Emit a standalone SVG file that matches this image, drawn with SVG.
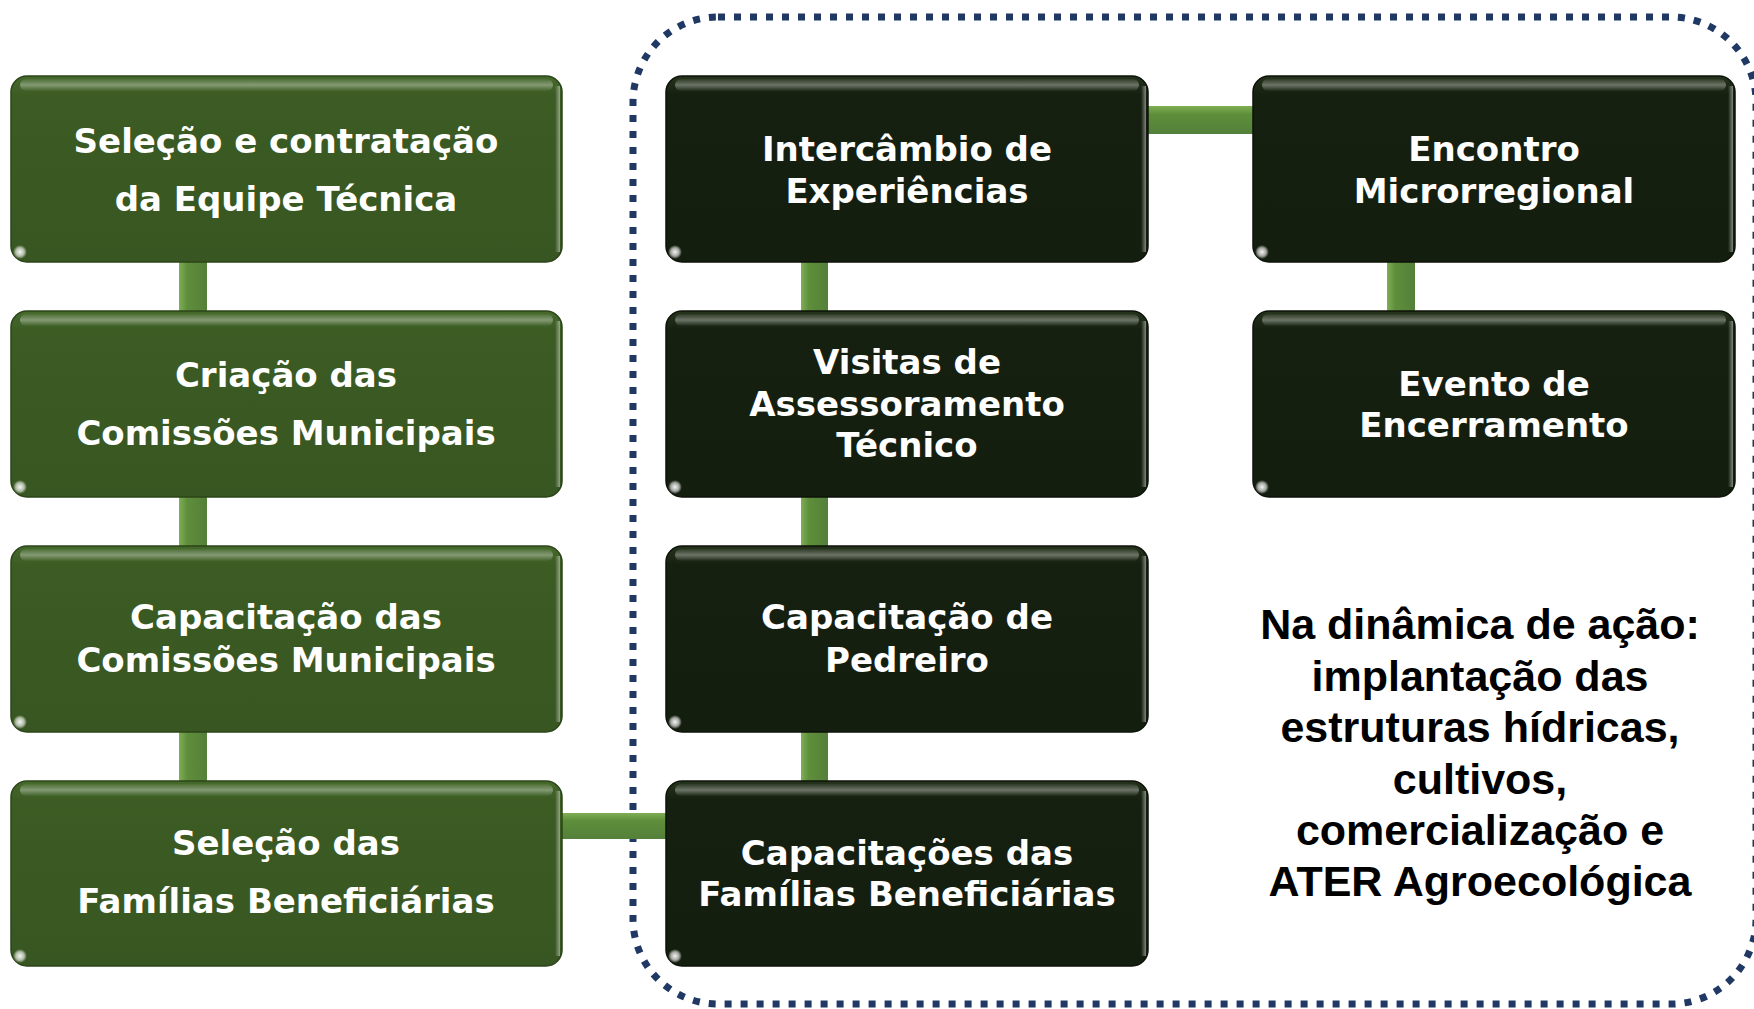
<svg xmlns="http://www.w3.org/2000/svg" width="1754" height="1009" viewBox="0 0 1754 1009">
<defs>
<linearGradient id="gGreen" x1="0" y1="0" x2="0" y2="1">
<stop offset="0" stop-color="#466a2c"/><stop offset="0.1" stop-color="#3c5c24"/><stop offset="1" stop-color="#385621"/>
</linearGradient>
<linearGradient id="gDark" x1="0" y1="0" x2="0" y2="1">
<stop offset="0" stop-color="#26331c"/><stop offset="0.1" stop-color="#162010"/><stop offset="1" stop-color="#141e0e"/>
</linearGradient>
<linearGradient id="gloss" x1="0" y1="0" x2="0" y2="1">
<stop offset="0" stop-color="#ffffff" stop-opacity="0.05"/><stop offset="0.5" stop-color="#ffffff" stop-opacity="0.35"/><stop offset="1" stop-color="#ffffff" stop-opacity="0.02"/>
</linearGradient>
<linearGradient id="barV" x1="0" y1="0" x2="1" y2="0">
<stop offset="0" stop-color="#7fae55"/><stop offset="0.3" stop-color="#5e8e3a"/><stop offset="1" stop-color="#54803a"/>
</linearGradient>
<linearGradient id="barH" x1="0" y1="0" x2="0" y2="1">
<stop offset="0" stop-color="#7fae55"/><stop offset="0.3" stop-color="#5e8e3a"/><stop offset="1" stop-color="#54803a"/>
</linearGradient>
<linearGradient id="edgeR" x1="0" y1="0" x2="1" y2="0">
<stop offset="0" stop-color="#ffffff" stop-opacity="0"/><stop offset="1" stop-color="#ffffff" stop-opacity="0.45"/>
</linearGradient>
<radialGradient id="blob" cx="0.5" cy="0.5" r="0.5">
<stop offset="0" stop-color="#ffffff" stop-opacity="0.95"/><stop offset="0.6" stop-color="#ffffff" stop-opacity="0.6"/><stop offset="1" stop-color="#ffffff" stop-opacity="0"/>
</radialGradient>
</defs>
<style>
.green{fill:url(#gGreen);stroke:#2c4419;stroke-width:1.5}
.dark{fill:url(#gDark);stroke:#0c1208;stroke-width:1.5}
.gl{fill:url(#gloss)}
.er{fill:url(#edgeR)}
.bl{fill:url(#blob)}
.t{font-family:"DejaVu Sans",sans-serif;font-weight:bold;font-size:34px;fill:#ffffff;text-anchor:middle}
.note{font-family:"Liberation Sans",Arial,sans-serif;font-weight:bold;font-size:43px;fill:#000000;text-anchor:middle}
.frame{fill:none;stroke:#1f3864;stroke-width:7;stroke-dasharray:7 9}
</style>
<rect width="1754" height="1009" fill="#ffffff"/>
<path class="frame" d="M718,17 H1671 A85,85 0 0 1 1756,102 V919 A85,85 0 0 1 1671,1004 H718 A85,85 0 0 1 633,919 V102 A85,85 0 0 1 718,17 Z"/>
<g id="connectors">
<rect x="179" y="262" width="28" height="49" fill="url(#barV)"/>
<rect x="179" y="497" width="28" height="49" fill="url(#barV)"/>
<rect x="179" y="732" width="28" height="49" fill="url(#barV)"/>
<rect x="801" y="262" width="27" height="49" fill="url(#barV)"/>
<rect x="801" y="497" width="27" height="49" fill="url(#barV)"/>
<rect x="801" y="732" width="27" height="49" fill="url(#barV)"/>
<rect x="1387" y="262" width="28" height="49" fill="url(#barV)"/>
<rect x="1148" y="106" width="105" height="28" fill="url(#barH)"/>
<rect x="562" y="813" width="104" height="26" fill="url(#barH)"/>
</g>
<g id="n1">
<rect class="green" x="11" y="76" width="551" height="186" rx="16"/>
<rect class="gl" x="20" y="79" width="533" height="12" rx="6"/>
<rect class="er" x="555" y="86" width="5" height="166"/>
<ellipse class="bl" cx="20" cy="252" rx="7" ry="7"/>
<text class="t" x="286" y="153">Seleção e contratação</text>
<text class="t" x="286" y="211">da Equipe Técnica</text>
</g>
<g id="n2">
<rect class="green" x="11" y="311" width="551" height="186" rx="16"/>
<rect class="gl" x="20" y="314" width="533" height="12" rx="6"/>
<rect class="er" x="555" y="321" width="5" height="166"/>
<ellipse class="bl" cx="20" cy="487" rx="7" ry="7"/>
<text class="t" x="286" y="387">Criação das</text>
<text class="t" x="286" y="445">Comissões Municipais</text>
</g>
<g id="n3">
<rect class="green" x="11" y="546" width="551" height="186" rx="16"/>
<rect class="gl" x="20" y="549" width="533" height="12" rx="6"/>
<rect class="er" x="555" y="556" width="5" height="166"/>
<ellipse class="bl" cx="20" cy="722" rx="7" ry="7"/>
<text class="t" x="286" y="629">Capacitação das</text>
<text class="t" x="286" y="672">Comissões Municipais</text>
</g>
<g id="n4">
<rect class="green" x="11" y="781" width="551" height="185" rx="16"/>
<rect class="gl" x="20" y="784" width="533" height="12" rx="6"/>
<rect class="er" x="555" y="791" width="5" height="165"/>
<ellipse class="bl" cx="20" cy="956" rx="7" ry="7"/>
<text class="t" x="286" y="855">Seleção das</text>
<text class="t" x="286" y="913">Famílias Beneficiárias</text>
</g>
<g id="m1">
<rect class="dark" x="666" y="76" width="482" height="186" rx="16"/>
<rect class="gl" x="675" y="79" width="464" height="12" rx="6"/>
<rect class="er" x="1141" y="86" width="5" height="166"/>
<ellipse class="bl" cx="675" cy="252" rx="7" ry="7"/>
<text class="t" x="907" y="161">Intercâmbio de</text>
<text class="t" x="907" y="203">Experiências</text>
</g>
<g id="m2">
<rect class="dark" x="666" y="311" width="482" height="186" rx="16"/>
<rect class="gl" x="675" y="314" width="464" height="12" rx="6"/>
<rect class="er" x="1141" y="321" width="5" height="166"/>
<ellipse class="bl" cx="675" cy="487" rx="7" ry="7"/>
<text class="t" x="907" y="374">Visitas de</text>
<text class="t" x="907" y="416">Assessoramento</text>
<text class="t" x="907" y="457">Técnico</text>
</g>
<g id="m3">
<rect class="dark" x="666" y="546" width="482" height="186" rx="16"/>
<rect class="gl" x="675" y="549" width="464" height="12" rx="6"/>
<rect class="er" x="1141" y="556" width="5" height="166"/>
<ellipse class="bl" cx="675" cy="722" rx="7" ry="7"/>
<text class="t" x="907" y="629">Capacitação de</text>
<text class="t" x="907" y="672">Pedreiro</text>
</g>
<g id="m4">
<rect class="dark" x="666" y="781" width="482" height="185" rx="16"/>
<rect class="gl" x="675" y="784" width="464" height="12" rx="6"/>
<rect class="er" x="1141" y="791" width="5" height="165"/>
<ellipse class="bl" cx="675" cy="956" rx="7" ry="7"/>
<text class="t" x="907" y="865">Capacitações das</text>
<text class="t" x="907" y="906">Famílias Beneficiárias</text>
</g>
<g id="r1">
<rect class="dark" x="1253" y="76" width="482" height="186" rx="16"/>
<rect class="gl" x="1262" y="79" width="464" height="12" rx="6"/>
<rect class="er" x="1728" y="86" width="5" height="166"/>
<ellipse class="bl" cx="1262" cy="252" rx="7" ry="7"/>
<text class="t" x="1494" y="161">Encontro</text>
<text class="t" x="1494" y="203">Microrregional</text>
</g>
<g id="r2">
<rect class="dark" x="1253" y="311" width="482" height="186" rx="16"/>
<rect class="gl" x="1262" y="314" width="464" height="12" rx="6"/>
<rect class="er" x="1728" y="321" width="5" height="166"/>
<ellipse class="bl" cx="1262" cy="487" rx="7" ry="7"/>
<text class="t" x="1494" y="396">Evento de</text>
<text class="t" x="1494" y="437">Encerramento</text>
</g>
<g id="note">
<text class="note" x="1480" y="639">Na dinâmica de ação:</text>
<text class="note" x="1480" y="691">implantação das</text>
<text class="note" x="1480" y="742">estruturas hídricas,</text>
<text class="note" x="1480" y="794">cultivos,</text>
<text class="note" x="1480" y="845">comercialização e</text>
<text class="note" x="1480" y="896">ATER Agroecológica</text>
</g>
</svg>
